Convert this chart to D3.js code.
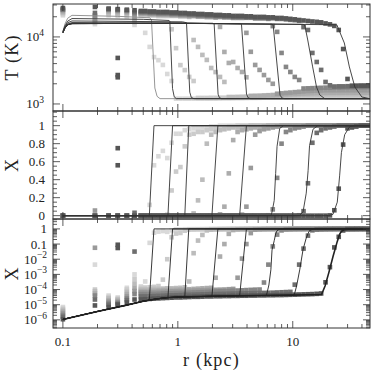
<!DOCTYPE html>
<html><head><meta charset="utf-8">
<script src="https://cdn.jsdelivr.net/npm/d3@7"></script>
<style>body{margin:0;background:#fff}svg{display:block}</style>
</head><body>
<svg id="c" width="374" height="374" font-family="'Liberation Serif','DejaVu Serif',serif"></svg>
<script>
// radial cells (kpc): 6 inner cells + regular grid
const cellR = [0.1,0.19,0.25,0.3,0.36,0.42,
 0.477,0.52,0.569,0.621,0.678,0.741,0.809,0.883,0.965,1.053,
 1.15,1.256,1.372,1.499,1.636,1.787,1.952,2.132,2.328,2.542,
 2.777,3.032,3.311,3.616,3.95,4.313,4.71,5.144,5.618,6.135,
 6.7,7.316,7.99,8.727,9.531,10.41,11.37,12.41,13.56,14.81,
 16.17,17.66,19.29,21.06,23.0,25.12,27.44,29.96,32.72,35.73,
 39.03,42.62,46.54];

const snapShade = ['#d9d9d9','#cbcbcb','#bcbcbc','#acacac','#9a9a9a','#868686','#6e6e6e','#575757'];

// temperature (K) per cell, per snapshot
const tempS1 = [21000,15500,21000,20500,20000,15100,
 20700,11500,7100,5000,4500,3820,2800,2200,
 1200,1200,1200,1200,1200,1200,1200,1200,1200,1200,
 1205,1210,1210,1215,1220,1220,1225,1230,1230,1235,
 1240,1240,1245,1250,1250,1255,1260,1260,1265,1270,
 1270,1270,1275,1275,1280,1280,1280,1280,1280,1280,1280,1280,1280,1280,1280];
const tempS2 = [22000,16500,22000,21500,21000,16500,
 21200,21200,20900,20900,20500,20500,20500,
 13000,6800,3800,3200,2530,2200,
 1230,1230,1230,1235,1235,1240,1240,1245,1245,1250,
 1255,1260,1265,1270,1275,1280,1285,1290,1295,1300,
 1300,1305,1305,1310,1310,1315,1315,1320,1320,1320,
 1320,1320,1320,1320,1320,1320,1320,1320,1320,1320];
const tempS3 = [23000,17500,23000,22500,22000,18000,
 21700,21700,21400,21400,21000,21000,21000,20600,20600,20300,20300,19900,
 9000,7100,5390,4540,3440,2990,2530,2130,
 1270,1270,1275,1280,1285,1290,1295,1300,1305,1310,
 1320,1330,1340,1350,1360,1370,1375,1380,1380,1385,
 1385,1390,1390,1390,1390,1390,1390,1390,1390,1390,1390,1390,1390];
const tempS4 = [24000,18500,24000,23500,23000,19500,
 22200,22200,21800,21800,21500,21500,21500,21100,21100,20700,
 20700,20400,20400,20000,20000,19700,19700,19400,
 14100,5970,4090,4230,3440,3000,2500,
 1320,1325,1330,1340,1350,1360,1370,1380,1390,1400,
 1410,1420,1430,1440,1450,1455,1460,1465,1470,1470,
 1470,1470,1470,1470,1470,1470,1470,1470];
const tempS5 = [25000,20000,25000,24500,24000,21000,
 22700,22700,22300,22300,21900,21900,21900,21600,21600,21200,
 21200,20800,20800,20500,20500,20200,20200,19800,19800,19500,
 19500,19200,19200,19200,
 11500,6000,3820,3220,2700,2280,2000,
 1420,1440,1460,1480,1500,1520,1540,1560,1570,1580,
 1590,1600,1600,1600,1600,1600,1600,1600,1600,1600,1600,1600];
const tempS6 = [25500,21000,25500,25000,24500,22500,
 23200,23200,22800,22800,22400,22400,22400,22000,22000,21700,
 21700,21300,21300,20900,20900,20600,20600,20200,20200,20000,
 20000,19600,19600,19600,19300,19300,18900,18900,18900,18600,
 14500,11900,5770,3570,3000,2530,2280,
 1700,1710,1720,1730,1740,1750,1750,1760,1760,1770,1770,1780,1780,1780,1780,1780];
const tempS7 = [26000,22800,26000,25500,25000,23500,
 23700,23700,23300,23300,22900,22900,22900,22500,22500,22100,
 22100,21700,21700,21300,21300,21000,21000,20700,20700,20400,
 20400,20000,20000,20000,19700,19700,19300,19300,19300,19000,
 19000,18600,18600,18300,18000,17800,17400,
 14000,12700,5770,4230,3220,2130,1900,
 1820,1830,1830,1840,1840,1850,1850,1850,1850];
const tempS8 = [27000,28000,26500,26000,25500,25000,
 24400,24400,24000,24000,23600,23600,23600,23200,23200,22800,
 22800,22400,22400,22000,22000,21700,21700,21300,21300,21000,
 21000,20600,20600,20600,20300,20300,19900,19900,19900,19600,
 19600,19200,19200,18900,18600,18300,17900,17600,17300,17000,
 16800,16500,15900,15400,14600,
 12700,6600,2360,1870,1870,1880,1880,1880];

// neutral fraction X per cell, per snapshot
const fracS1 = [7e-6,4.4e-3,4e-5,3e-5,1.3e-4,1e-3,
 1.6e-4,3.4e-4,0.12,0.56,0.66,0.72,0.64,0.81,0.91,0.91,
 0.95,0.96,0.97,0.97,0.98,0.98,0.99,0.99,
 1,1,1,1,1,1,1,1,1,1, 1,1,1,1,1,1,1,1,1,1, 1,1,1,1,1,1,1,1,1,1, 1,1,1,1,1];
const fracS2 = [5.5e-6,1e-4,3.2e-5,2.5e-5,1e-4,5e-4,
 1.3e-4,1.35e-4,1.4e-4,1.5e-4,1.7e-4,4.5e-4,1e-2,0.28,0.49,0.54,
 0.77,0.90,0.91,0.93,0.93,0.95,0.96,0.97,0.98,0.98,0.99,0.99,
 1,1,1,1,1,1,1,1,1,1, 1,1,1,1,1,1,1,1,1,1, 1,1,1,1,1,1,1,1,1,1, 1];
const fracS3 = [4.5e-6,7.7e-5,2.6e-5,2.2e-5,7e-5,2.5e-4,
 1e-4,1e-4,1.05e-4,1.1e-4,1.1e-4,1.15e-4,1.2e-4,1.2e-4,1.25e-4,1.3e-4,1.4e-4,
 3.4e-4,0.025,0.17,0.40,0.80,0.90,0.93,0.95,0.96,0.97,0.98,0.98,0.99,0.99,
 1,1,1,1,1,1,1,1,1,1, 1,1,1,1,1,1,1,1,1,1, 1,1,1,1,1,1,1,1];
const fracS4 = [3.5e-6,5.5e-5,2e-5,1.8e-5,5e-5,1.3e-4,
 8e-5,8e-5,8.3e-5,8.5e-5,8.7e-5,9e-5,9.2e-5,9.5e-5,9.7e-5,1e-4,
 1e-4,1.05e-4,1.1e-4,1.15e-4,1.2e-4,1.25e-4,1.3e-4,
 6e-4,0.015,0.1,0.47,0.84,0.93,0.95,0.96,0.97,0.98,0.98,0.99,
 1,1,1,1,1,1,1,1,1,1, 1,1,1,1,1,1,1,1,1,1, 1,1,1,1];
const fracS5 = [2.8e-6,0.057,1.6e-5,1.5e-5,3.5e-5,8e-5,
 6.5e-5,6.5e-5,6.7e-5,6.8e-5,7e-5,7.2e-5,7.4e-5,7.6e-5,7.8e-5,8e-5,
 8e-5,8.3e-5,8.5e-5,8.7e-5,9e-5,9.2e-5,9.4e-5,9.6e-5,9.8e-5,1e-4,1.05e-4,1.1e-4,
 6e-4,1.1e-2,0.10,0.53,0.90,0.94,0.96,0.97,0.98,0.99,
 1,1,1,1,1,1,1,1,1,1, 1,1,1,1,1,1,1,1,1,1, 1];
const fracS6 = [2.1e-6,4e-5,1.3e-5,1.3e-5,2.6e-5,5e-5,
 5e-5,5e-5,5.1e-5,5.2e-5,5.3e-5,5.5e-5,5.6e-5,5.8e-5,5.9e-5,6e-5,
 6e-5,6.2e-5,6.4e-5,6.6e-5,6.8e-5,7e-5,7.2e-5,7.4e-5,7.6e-5,7.8e-5,
 8e-5,8.3e-5,8.6e-5,8.9e-5,9.2e-5,9.5e-5,9.8e-5,1e-4,
 2.9e-4,4.4e-3,0.07,0.42,0.80,0.93,0.95,0.97,0.98,0.99,
 1,1,1,1,1,1,1,1,1,1, 1,1,1,1,1];
const fracS7 = [1.6e-6,2.2e-5,1e-5,1.1e-5,2e-5,3.2e-2,
 3.5e-5,3.5e-5,3.6e-5,3.7e-5,3.8e-5,3.9e-5,4e-5,4.1e-5,4.2e-5,4.3e-5,
 4.5e-5,4.5e-5,4.6e-5,4.7e-5,4.8e-5,4.9e-5,5e-5,5e-5,5.1e-5,5.2e-5,
 5.3e-5,5.4e-5,5.5e-5,5.5e-5,5.6e-5,5.7e-5,5.8e-5,5.9e-5,6e-5,6.1e-5,
 6.2e-5,6.4e-5,6.6e-5,6.8e-5,7e-5,
 2.1e-4,4.4e-3,0.05,0.36,0.81,0.92,0.95,0.97,0.98,0.99,
 1,1,1,1,1,1,1,1];
const fracS8 = [1.1e-6,8.9e-6,7e-6,1e-5,1.4e-5,2.2e-5,
 2.2e-5,2.3e-5,2.4e-5,2.5e-5,2.6e-5,2.7e-5,2.8e-5,2.9e-5,3e-5,3e-5,
 3.1e-5,3.2e-5,3.3e-5,3.3e-5,3.4e-5,3.5e-5,3.5e-5,3.6e-5,3.6e-5,3.7e-5,
 3.7e-5,3.8e-5,3.8e-5,3.9e-5,3.9e-5,4e-5,4e-5,4.1e-5,4.1e-5,4.2e-5,
 4.2e-5,4.3e-5,4.3e-5,4.4e-5,4.5e-5,4.6e-5,4.7e-5,4.8e-5,4.9e-5,5e-5,
 5.2e-5,5.5e-5,
 3e-4,3e-3,0.06,0.30,0.79,0.97,0.98,0.99,
 1,1,1];

// odd cells at r = 0.3 kpc
const extraTop = [[0.3,4860],[0.3,2700],[0.3,2500]];
const extraMid = [[0.3,0.75],[0.3,0.56]];
const extraLow = [[0.3,0.09],[0.3,0.055]];

// model curves: temperature
const lineT1 = [[0.1,12000],[0.104,15500],[0.11,19000],[0.12,21000],[0.3,20300],[0.57,19300],[0.59,17900],[0.631,1730],[0.66,1300],[0.7,1200],[47,1200]];
const lineT2 = [[0.1,12000],[0.104,14500],[0.11,17200],[0.12,18800],[0.5,18300],[0.84,17600],[0.852,17000],[0.899,1700],[0.93,1280],[0.97,1200],[47,1200]];
const lineT3 = [[0.1,12000],[0.104,14000],[0.11,16300],[0.12,17300],[1.1,16800],[1.19,16300],[1.27,1500],[1.31,1250],[1.38,1200],[47,1200]];
const lineT4 = [[0.1,11800],[0.104,13800],[0.11,15600],[0.12,16400],[2.0,16000],[2.07,15700],[2.24,1400],[2.3,1240],[2.4,1200],[47,1200]];
const lineT5 = [[0.1,11500],[0.104,13500],[0.11,15200],[0.12,15800],[1,16000],[3.5,15700],[3.58,15400],[3.96,1400],[4.1,1230],[4.3,1200],[47,1200]];
const lineT6 = [[0.1,11500],[0.104,13500],[0.11,15200],[0.12,15800],[1,16000],[6.5,15500],[6.75,15100],[7.75,1350],[8.1,1220],[8.5,1200],[47,1200]];
const lineT7 = [[0.1,11500],[0.104,13500],[0.11,15200],[0.12,15800],[1,16000],[12.3,15400],[12.7,15100],[13.5,9000],[14.9,3570],[16.1,1790],[17.2,1360],[19.0,1200],[47,1200]];
const lineT8 = [[0.1,11500],[0.104,13500],[0.11,15200],[0.12,15800],[1,16000],[23.5,15200],[24.2,15100],[28.1,8130],[31.1,3570],[34.7,1790],[39.9,1270],[46.7,1200],[47,1200]];

// model curves: neutral fraction
const lineX1 = [[0.1,1.07e-6],[0.2,3.6e-6],[0.35,9e-6],[0.5,1.7e-5],[0.565,2.1e-5],[0.62,1],[47,1]];
const lineX2 = [[0.1,1.07e-6],[0.2,3.6e-6],[0.35,9e-6],[0.5,1.7e-5],[0.65,2.4e-5],[0.8,2.9e-5],[0.82,2.95e-5],[0.9,1],[47,1]];
const lineX3 = [[0.1,1.07e-6],[0.2,3.6e-6],[0.35,9e-6],[0.5,1.7e-5],[0.65,2.4e-5],[0.8,2.9e-5],[1.0,3.2e-5],[1.15,3.3e-5],[1.245,1],[47,1]];
const lineX4 = [[0.1,1.07e-6],[0.2,3.6e-6],[0.35,9e-6],[0.5,1.7e-5],[0.65,2.4e-5],[0.8,2.9e-5],[1.0,3.2e-5],[1.98,3.6e-5],[2.23,1],[47,1]];
const lineX5 = [[0.1,1.07e-6],[0.2,3.6e-6],[0.35,9e-6],[0.5,1.7e-5],[0.65,2.4e-5],[0.8,2.9e-5],[1.0,3.2e-5],[2,3.6e-5],[3.45,3.9e-5],[3.95,1],[47,1]];
const lineX6 = [[0.1,1.07e-6],[0.2,3.6e-6],[0.35,9e-6],[0.5,1.7e-5],[0.65,2.4e-5],[0.8,2.9e-5],[1.0,3.2e-5],[2,3.6e-5],[5,4e-5],[5.9,4.1e-5],[6.2,2e-4],[6.45,2e-3],[6.6,0.04],[6.9,0.17],[7.1,0.47],[7.3,0.77],[7.7,0.97],[8.3,1],[47,1]];
const lineX7 = [[0.1,1.07e-6],[0.2,3.6e-6],[0.35,9e-6],[0.5,1.7e-5],[0.65,2.4e-5],[0.8,2.9e-5],[1.0,3.2e-5],[2,3.6e-5],[5,4e-5],[10.3,4.4e-5],[10.8,1.7e-4],[11.5,2e-3],[12.3,0.045],[13.1,0.25],[13.6,0.5],[14.0,0.78],[15.0,0.96],[16.5,1],[47,1]];
const lineX8 = [[0.1,1.07e-6],[0.2,3.6e-6],[0.35,9e-6],[0.5,1.7e-5],[0.65,2.4e-5],[0.8,2.9e-5],[1.0,3.2e-5],[2,3.6e-5],[5,4e-5],[10,4.3e-5],[17.8,4.7e-5],[19.1,1.7e-4],[20.6,1.3e-3],[22.4,1.5e-2],[24.4,0.15],[25.6,0.45],[26.5,0.7],[28.3,0.9],[31.3,0.99],[35,1],[47,1]];

// tick labels
const xTickVals = [0.1,1,10];
const xTickLabels = ['0.1','1','10'];
const tTickVals = [1000,10000];
const tTickExp = ['3','4'];
const mTickVals = [0,0.2,0.4,0.6,0.8,1];
const mTickLabels = ['0','0.2','0.4','0.6','0.8','1'];
const bTickVals = [1,0.1,1e-2,1e-3,1e-4,1e-5,1e-6];
const bTickBase = ['1','0.1','10','10','10','10','10'];
const bTickExp = ['','','\u22122','\u22123','\u22124','\u22125','\u22126'];

const snapT = [tempS1,tempS2,tempS3,tempS4,tempS5,tempS6,tempS7,tempS8];
const snapX = [fracS1,fracS2,fracS3,fracS4,fracS5,fracS6,fracS7,fracS8];
const linesT = [lineT1,lineT2,lineT3,lineT4,lineT5,lineT6,lineT7,lineT8];
const linesX = [lineX1,lineX2,lineX3,lineX4,lineX5,lineX6,lineX7,lineX8];

const FONT = "'Liberation Serif','DejaVu Serif',serif";
const svg = d3.select('#c');
const L = 53, R = 370;
const P = [{t:4,b:111},{t:111,b:219},{t:219,b:328}];
const x = d3.scaleLog().domain([0.082,47]).range([L,R]);
const yT = d3.scaleLog().domain([785,31000]).range([P[0].b,P[0].t]);
const yM = d3.scaleLinear().domain([-0.037,1.163]).range([P[1].b,P[1].t]);
const yB = d3.scaleLog().domain([2.9e-7,4.5]).range([P[2].b,P[2].t]);

const defs = svg.append('defs');
P.forEach((p,i)=>defs.append('clipPath').attr('id','cp'+i).append('rect')
  .attr('x',L).attr('y',p.t).attr('width',R-L).attr('height',p.b-p.t));
const gp = P.map((p,i)=>svg.append('g').attr('clip-path',`url(#cp${i})`));

const S = 4.6;
function squares(g, pts, y, color){
  g.selectAll(null).data(pts.filter(d=>d[1]!=null))
   .enter().append('rect')
   .attr('x',d=>x(d[0])-S/2).attr('y',d=>y(d[1])-S/2)
   .attr('width',S).attr('height',S).attr('fill',color);
}
for(let k=0;k<8;k++){
  const pT = cellR.map((r,j)=>[r,snapT[k][j]]);
  const pX = cellR.map((r,j)=>[r,snapX[k][j]]);
  squares(gp[0],pT,yT,snapShade[k]);
  squares(gp[1],pX,yM,snapShade[k]);
  squares(gp[2],pX,yB,snapShade[k]);
}
squares(gp[0],extraTop,yT,'#555');
squares(gp[1],extraMid,yM,'#555');
squares(gp[2],extraLow,yB,'#555');

const lineCol = ['#8a8a8a','#333','#333','#333','#333','#333','#333','#333'];
for(let k=0;k<8;k++){
  gp[0].append('path').attr('d',d3.line().x(d=>x(d[0])).y(d=>yT(d[1]))(linesT[k]))
    .attr('fill','none').attr('stroke',lineCol[k]).attr('stroke-width',0.9);
  gp[1].append('path').attr('d',d3.line().x(d=>x(d[0])).y(d=>yM(d[1]))(linesX[k]))
    .attr('fill','none').attr('stroke','#333').attr('stroke-width',0.9);
  gp[2].append('path').attr('d',d3.line().x(d=>x(d[0])).y(d=>yB(d[1]))(linesX[k]))
    .attr('fill','none').attr('stroke','#222').attr('stroke-width',k===7?1.6:0.9);
}

// frames and ticks
const ax = svg.append('g').attr('stroke','#333').attr('fill','none');
P.forEach(p=>ax.append('rect').attr('x',L).attr('y',p.t).attr('width',R-L).attr('height',p.b-p.t).attr('stroke-width',1));
const MAJ=7, MIN=4;
const xMinor = [];
[0.1,1,10].forEach(d=>{for(let m=2;m<=9;m++){ if(d*m<=47) xMinor.push(d*m);} });
function hTick(xv,yv,len,dir){ ax.append('line').attr('x1',xv).attr('x2',xv).attr('y1',yv).attr('y2',yv+dir*len).attr('stroke-width',0.8); }
function vTick(yv,len){ ax.append('line').attr('x1',L).attr('x2',L+len).attr('y1',yv).attr('y2',yv).attr('stroke-width',0.8);
  ax.append('line').attr('x1',R).attr('x2',R-len).attr('y1',yv).attr('y2',yv).attr('stroke-width',0.8); }
P.forEach(p=>{
  xTickVals.forEach(v=>{hTick(x(v),p.b,MAJ,-1);hTick(x(v),p.t,MAJ,1);});
  xMinor.forEach(v=>{hTick(x(v),p.b,MIN,-1);hTick(x(v),p.t,MIN,1);});
});
tTickVals.forEach(v=>vTick(yT(v),MAJ));
[2000,3000,4000,5000,6000,7000,8000,9000,20000,30000].forEach(v=>vTick(yT(v),MIN));
mTickVals.forEach(v=>vTick(yM(v),MAJ));
for(let i=1;i<=23;i++){ const v=i*0.05; if(i%4!==0) vTick(yM(v),MIN); }
bTickVals.forEach(v=>vTick(yB(v),MAJ));
[1e-7,1e-6,1e-5,1e-4,1e-3,1e-2,0.1,1].forEach(d=>{for(let m=2;m<=9;m++){const v=d*m; if(v>2.9e-7 && v<4.5) vTick(yB(v),MIN);} });

// labels
const FS = 13;
const lab = svg.append('g').attr('font-size',FS).attr('font-family',FONT).attr('fill','#222');
function supLabel(xr,yv,base,exp){
  const t = lab.append('text').attr('x',xr).attr('y',yv+4.5).attr('text-anchor','end');
  t.append('tspan').text(base);
  if(exp) t.append('tspan').attr('dy',-5.5).attr('font-size',9.5).text(exp);
}
tTickVals.forEach((v,i)=>supLabel(44,yT(v),'10',tTickExp[i]));
mTickVals.forEach((v,i)=>supLabel(45,yM(v),mTickLabels[i],''));
bTickVals.forEach((v,i)=>supLabel(47,yB(v),bTickBase[i],bTickExp[i]));
xTickVals.forEach((v,i)=>lab.append('text').attr('x',x(v)).attr('y',346).attr('text-anchor','middle').text(xTickLabels[i]));

const tit = svg.append('g').attr('font-size',18).attr('font-family',FONT).attr('fill','#222').attr('letter-spacing',1.2);
tit.append('text').attr('x',(L+R)/2).attr('y',366).attr('text-anchor','middle').text('r (kpc)');
[['T (K)',(P[0].t+P[0].b)/2],['X',(P[1].t+P[1].b)/2],['X',(P[2].t+P[2].b)/2]].forEach(([s,yc])=>
  tit.append('text').attr('transform',`translate(18,${yc}) rotate(-90)`).attr('text-anchor','middle').text(s));
</script>
</body></html>
